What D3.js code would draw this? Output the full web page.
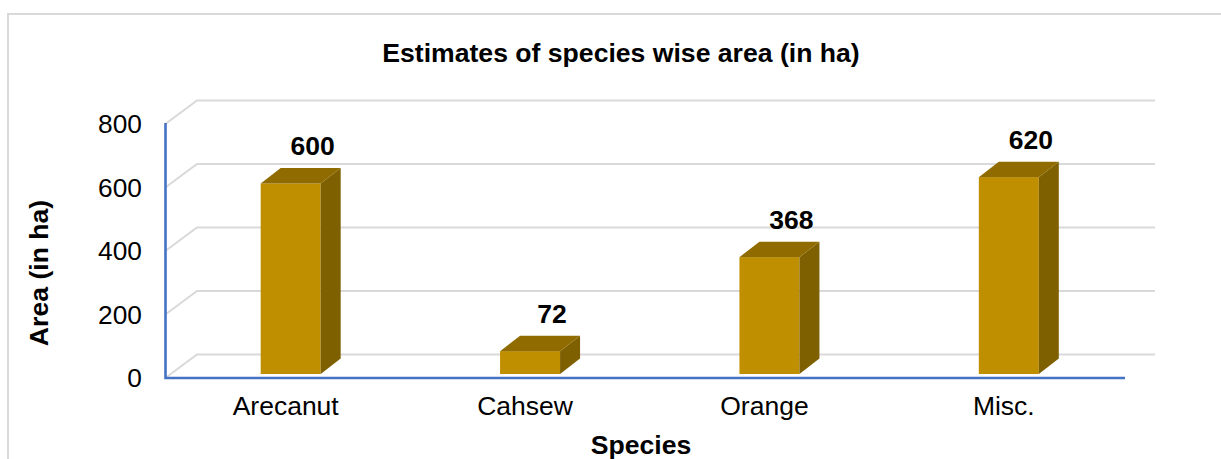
<!DOCTYPE html>
<html><head><meta charset="utf-8">
<script src="https://cdn.jsdelivr.net/npm/d3@7"></script>
<style>html,body{margin:0;padding:0;background:#fff}svg{display:block}text{font-family:"Liberation Sans",Arial,sans-serif;fill:#000}</style>
</head><body><svg id="c" width="1221" height="459"></svg>
<script>
const categories = ["Arecanut","Cahsew","Orange","Misc."];
const values = [600,72,368,620];
const tickValues = [0,200,400,600,800];
const title = "Estimates of species wise area (in ha)";
const xTitle = "Species", yTitle = "Area (in ha)";

const svg = d3.select("#c");
const x = d3.scaleBand().domain(categories).range([166,1123.5]);
const y = d3.scaleLinear().domain([0,800]).range([377.5,123.5]);
const floorDx = 31, floorDy = -23, barW = 60, barDx = 20, barDy = -15.5, barInsetX = 5, barInsetY = -3.5;

// frame
svg.append("path").attr("d","M8,459V14H1221").attr("fill","none").attr("stroke","#d9d9d9").attr("stroke-width",2);

// grid
const g = svg.append("g").attr("fill","none").attr("stroke","#d9d9d9").attr("stroke-width",2);
tickValues.forEach(t=>{
  g.append("path").attr("d",d3.line()([[x.range()[0],y(t)],[x.range()[0]+floorDx,y(t)+floorDy],[1155,y(t)+floorDy]]));
});

// axes
const ax = d3.axisLeft(y).tickValues(tickValues).tickSize(0).tickPadding(0);
const ay = svg.append("g").attr("transform","translate(142,0)").call(ax);
ay.select(".domain").remove();
ay.selectAll("text").attr("font-size",26.3).attr("dy","0.35em").style("font-family",'"Liberation Sans"');

svg.append("path").attr("d",d3.line()([[165.5,123],[165.5,378],[1125,378]])).attr("fill","none").attr("stroke","#4472c4").attr("stroke-width",2.6);

const ax2 = d3.axisBottom(x).tickSize(0).tickPadding(0);
const bx = svg.append("g").attr("transform","translate(0,396)").call(ax2);
bx.select(".domain").remove();
bx.selectAll("text").attr("font-size",26.5).attr("dy","0.71em").style("font-family",'"Liberation Sans"');

// bars
const bars = svg.selectAll("g.bar").data(categories.map((c,i)=>({c,v:values[i]}))).join("g").attr("class","bar");
const L = d=>x(d.c)+x.bandwidth()/2-barW/2+barInsetX, B=y(0)+barInsetY, T=d=>y(d.v)+barInsetY;
bars.append("rect").attr("x",L).attr("y",T).attr("width",barW).attr("height",d=>B-T(d)).attr("fill","#bf8f00");
bars.append("path").attr("fill","#7f6000").attr("d",d=>{const r=L(d)+barW;return `M${r},${T(d)}L${r+barDx},${T(d)+barDy}V${B+barDy}L${r},${B}Z`;});
bars.append("path").attr("fill","#8f6b00").attr("d",d=>{const l=L(d),t=T(d);return `M${l},${t}L${l+barDx},${t+barDy}H${l+barW+barDx}L${l+barW},${t}Z`;});
bars.append("text").attr("x",d=>L(d)+barW/2+22).attr("y",d=>T(d)+barDy-13).attr("text-anchor","middle").attr("font-size",26.5).attr("font-weight","bold").text(d=>d.v);

// titles
svg.append("text").attr("x",621).attr("y",62).attr("text-anchor","middle").attr("font-size",26.6).attr("font-weight","bold").text(title);
svg.append("text").attr("x",641).attr("y",454).attr("text-anchor","middle").attr("font-size",26.6).attr("font-weight","bold").text(xTitle);
svg.append("text").attr("transform","translate(48,273) rotate(-90)").attr("text-anchor","middle").attr("font-size",26.6).attr("font-weight","bold").text(yTitle);
</script></body></html>
